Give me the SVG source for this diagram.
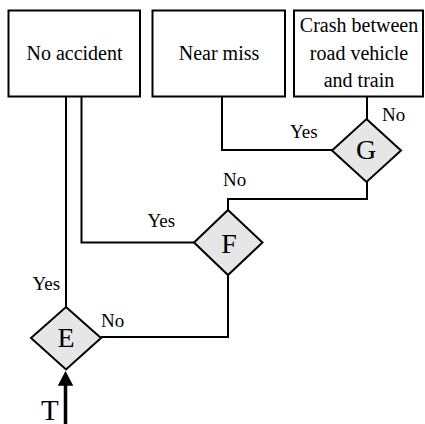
<svg xmlns="http://www.w3.org/2000/svg" width="425" height="424" viewBox="0 0 425 424">
<defs>
<style>
.box{fill:#fff;stroke:#000;stroke-width:2}
.dia{fill:#e6e6e6;stroke:#000;stroke-width:2}
.ln{fill:none;stroke:#000;stroke-width:2}
text{font-family:'Liberation Serif','DejaVu Serif','Times New Roman',serif;fill:#000}
.bt{font-size:20px;text-anchor:middle}
.lb{font-size:19px}
.dl{font-size:28px;text-anchor:middle}
</style>
<marker id="ah" markerWidth="5" markerHeight="4.4" refX="0.2" refY="2.2" orient="auto" markerUnits="strokeWidth">
<path d="M0,0 L4.2,2.2 L0,4.4 Z" fill="#000"/>
</marker>
</defs>
<rect width="425" height="424" fill="#fff"/>
<g id="connectors">
<path class="ln" d="M66,97 V307"/>
<path class="ln" d="M81.5,97 V242.5 H194"/>
<path class="ln" d="M222,97 V150 H332"/>
<path class="ln" d="M367,96 V119"/>
<path class="ln" d="M367,182 V199 H228 V210"/>
<path class="ln" d="M228,275 V337 H101"/>
<path fill="none" stroke="#000" stroke-width="3.5" d="M65.5,424 V385" marker-end="url(#ah)"/>
</g>
<g id="noAccident">
<rect class="box" x="8.5" y="10.5" width="131.5" height="86"/>
<text class="bt" x="74.5" y="60">No accident</text>
</g>
<g id="nearMiss">
<rect class="box" x="152.5" y="10.5" width="132.5" height="86"/>
<text class="bt" x="219" y="60">Near miss</text>
</g>
<g id="crash">
<rect class="box" x="294" y="10.5" width="129" height="86"/>
<text class="bt" x="359" y="32">Crash between</text>
<text class="bt" x="359" y="60">road vehicle</text>
<text class="bt" x="359" y="87">and train</text>
</g>
<g id="G">
<path class="dia" d="M366.5,119 L401,150.5 L366.5,182 L332,150.5 Z"/>
<text class="dl" x="366" y="159">G</text>
</g>
<g id="F">
<path class="dia" d="M228,210 L262.5,242.5 L228,275 L194,242.5 Z"/>
<text class="dl" x="229" y="253">F</text>
</g>
<g id="E">
<path class="dia" d="M66,307 L101,338 L66,369.5 L31,338 Z"/>
<text class="dl" x="66" y="347">E</text>
</g>
<g id="labels">
<text class="lb" x="290" y="138">Yes</text>
<text class="lb" x="382" y="120.5">No</text>
<text class="lb" x="223" y="186">No</text>
<text class="lb" x="147.5" y="226.5">Yes</text>
<text class="lb" x="32.5" y="290">Yes</text>
<text class="lb" x="101" y="326.5">No</text>
<text x="41" y="420" style="font-size:29px">T</text>
</g>
</svg>
